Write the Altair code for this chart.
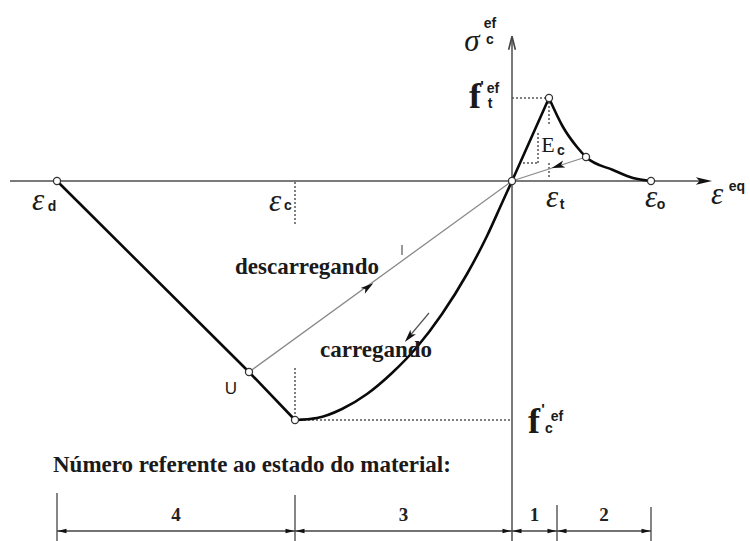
import math
import altair as alt
import pandas as pd

# ---- constitutive model values (strain / stress, arbitrary units) ----
eps_d = -455            # strain where compressive envelope reaches zero
eps_c = -217            # strain at compressive strength
f_c = -239              # compressive strength f'c
eps_un, sig_un = -263, -191   # unloading point U
eps_t = 37              # strain at tensile strength
f_t = 83                # tensile strength f't
eps_o = 139             # end of tension softening

# compressive loading branch from f'c through the origin up to f't
load_eps = [-217, -195, -170, -145, -120, -95, -70, -45, -25, -10, 0, 37]
load_sig = [-239, -237, -228, -213, -192, -166, -133, -93, -55, -22, 0, 83]

# tension softening branch
soft_eps = [37, 51, 65, 74, 101, 121, 139]
soft_sig = [83, 54, 34, 24, 11, 3, 0]

# unloading paths (U -> origin, softening point -> origin)
unl_eps = [-263, 0, 74]
unl_sig = [-191, 0, 24]

# boundaries of the material states 4 | 3 | 1 | 2
state_bounds = [-455, -217, 0, 45, 139]
state_names = ["4", "3", "1", "2"]

W, H = 750, 541
XDOM = [-512, 238]
YDOM = [-360, 181]

xs = alt.Scale(domain=XDOM, nice=False, zero=False)
ys = alt.Scale(domain=YDOM, nice=False, zero=False)
X = alt.X("x:Q", scale=xs, axis=None)
Y = alt.Y("y:Q", scale=ys, axis=None)


def seg_chart(df, **mark):
    return alt.Chart(df).mark_rule(**mark).encode(x=X, y=Y, x2="x2:Q", y2="y2:Q")


def line_chart(eps, sig, interp, **mark):
    df = pd.DataFrame({"x": eps, "y": sig, "o": range(len(eps))})
    return alt.Chart(df).mark_line(interpolate=interp, **mark).encode(
        x=X, y=Y, order="o:Q")


def heading(dx, dy):
    # screen angle (clockwise degrees) of a direction given in data units
    return (math.degrees(math.atan2(-dy, dx)) + 360) % 360


# ---- axes ----
axes = seg_chart(pd.DataFrame({
    "x": [-502, 0], "y": [0, 143], "x2": [190, 0], "y2": [0, -360]}),
    color="#7a7a7a", strokeWidth=2)

x_head = alt.Chart(pd.DataFrame({"x": [192], "y": [0]})).mark_point(
    shape="M1,0L-1,-0.45L-0.55,0L-1,0.45Z", filled=True, color="#111",
    size=260, opacity=1).encode(x=X, y=Y)

y_head = alt.Chart(pd.DataFrame({"x": [0], "y": [138]})).mark_point(
    shape="M-0.5,1L0,-1L0.5,1", filled=False, color="#444",
    strokeWidth=1.6, size=180, opacity=1).encode(x=X, y=Y)

# ---- dotted reference lines ----
dots = pd.DataFrame([
    (0, f_t, eps_t, f_t),
    (eps_t, 79, eps_t, 56),
    (26, 48, 26, 18),
    (11, 18, 26, 18),
    (eps_t, 18, eps_t, 3),
    (eps_c, -1, eps_c, -44),
    (eps_c, -187, eps_c, -235),
    (eps_c + 5, f_c, 0, f_c),
], columns=["x", "y", "x2", "y2"])
dotted = seg_chart(dots, color="#555", strokeWidth=1.5, strokeDash=[2, 2])

# ---- curves ----
unload = line_chart(unl_eps, unl_sig, "linear", color="#8a8a8a", strokeWidth=1.3)
envelope = line_chart([eps_d, eps_un, eps_c], [0, sig_un, f_c], "linear",
                      color="#0a0a0a", strokeWidth=2.6)
loading = line_chart(load_eps, load_sig, "monotone", color="#0a0a0a", strokeWidth=2.6)
softening = line_chart(soft_eps, soft_sig, "monotone", color="#0a0a0a", strokeWidth=2.6)

# small marks along the paths
small = seg_chart(pd.DataFrame({
    "x": [-110, -83], "y": [-64, -132], "x2": [-110, -104], "y2": [-74, -157]}),
    color="#555", strokeWidth=1.2)

arrows = pd.DataFrame({
    "x": [-144, -103, 46],
    "y": [-106, -156, 15],
    "a": [heading(-eps_un, -sig_un), heading(-21, -25), heading(-74, -24)],
})
arrow_heads = alt.Chart(arrows).mark_point(
    shape="M1,0L-1,-0.55L-0.5,0L-1,0.55Z", filled=True, color="#111",
    size=170, opacity=1).encode(x=X, y=Y, angle=alt.Angle("a:Q", scale=None))

# ---- characteristic points ----
pts = pd.DataFrame({
    "x": [eps_d, eps_un, eps_c, 0, eps_t, 74, eps_o],
    "y": [0, sig_un, f_c, 0, f_t, 24, 0],
})
points = alt.Chart(pts).mark_point(
    shape="circle", filled=True, fill="white", stroke="#333",
    strokeWidth=1.3, size=50, opacity=1).encode(x=X, y=Y)

# ---- material state dimension lines ----
dim_y = -350
edge_x = [state_bounds[0], state_bounds[1], state_bounds[3], state_bounds[4]]
ticks = seg_chart(pd.DataFrame({
    "x": edge_x, "y": [-312, -314, -324, -326],
    "x2": edge_x, "y2": [-360] * 4}), color="#444", strokeWidth=1.3)
dim_lines = seg_chart(pd.DataFrame({
    "x": state_bounds[:-1], "y": [dim_y] * 4,
    "x2": state_bounds[1:], "y2": [dim_y] * 4}), color="#444", strokeWidth=1.3)
heads = []
for a, b in zip(state_bounds[:-1], state_bounds[1:]):
    heads.append((a + 5, dim_y, 180))
    heads.append((b - 5, dim_y, 0))
dim_heads = alt.Chart(pd.DataFrame(heads, columns=["x", "y", "a"])).mark_point(
    shape="M1,0L-1,-0.5L-1,0.5Z", filled=True, color="#111", size=80,
    opacity=1).encode(x=X, y=Y, angle=alt.Angle("a:Q", scale=None))
dim_labels = alt.Chart(pd.DataFrame({
    "x": [(a + b) / 2 for a, b in zip(state_bounds[:-1], state_bounds[1:])],
    "y": [-334] * 4, "t": state_names})).mark_text(
    font="Liberation Serif", fontWeight="bold", fontSize=19, color="#222",
    baseline="middle", align="center").encode(x=X, y=Y, text="t:N")


# ---- text labels ----
def labels(rows, **mark):
    df = pd.DataFrame(rows, columns=["x", "y", "t"])
    opts = dict(baseline="middle", align="center", color="#1a1a1a")
    opts.update(mark)
    return alt.Chart(df).mark_text(**opts).encode(x=X, y=Y, text="t:N")


greek = labels([
    (-40, 139, "σ"),
    (-474, -20, "ε"), (-237, -21, "ε"), (40, -17, "ε"),
    (139, -17, "ε"), (205, -14, "ε"),
], font="Liberation Serif", fontStyle="italic", fontSize=31)

subs = labels([
    (-22, 157, "ef"), (-22, 141, "c"),
    (-19, 92, "ef"), (-22, 77, "t"),
    (45, -236, "ef"), (37, -248, "c"),
    (-460, -26, "d"), (-224, -25, "c"), (50, -24, "t"), (149, -24, "o"),
    (225, -6, "eq"), (49, 30, "c"),
], font="Liberation Sans", fontWeight="bold", fontSize=14)

primes = labels([(-30, 95, "'"), (31, -228, "'")],
                font="Liberation Sans", fontWeight="bold", fontSize=15)

f_labels = labels([(-37, 73, "f"), (22, -252, "f")],
                  font="Liberation Serif", fontWeight="bold", fontSize=36,
                  baseline="alphabetic")

e_label = labels([(36, 36, "E")], font="Liberation Serif", fontSize=22)
u_label = labels([(-281, -208, "U")], font="Liberation Sans", fontSize=17)

words = labels([
    (-277, -93, "descarregando"),
    (-192, -176, "carregando"),
    (-459, -291, "Número referente ao estado do material:"),
], font="Liberation Serif", fontWeight="bold", fontSize=23,
    baseline="alphabetic", align="left")

chart = alt.layer(
    axes, dotted, unload, small, envelope, loading, softening,
    arrow_heads, x_head, y_head, points,
    ticks, dim_lines, dim_heads, dim_labels,
    greek, subs, primes, f_labels, e_label, u_label, words,
).properties(
    width=W, height=H, padding=0, autosize=alt.AutoSizeParams(type="none"),
    background="white",
).configure_view(stroke=None)

chart.save("out.html", embed_options={"renderer": "svg", "actions": False})
